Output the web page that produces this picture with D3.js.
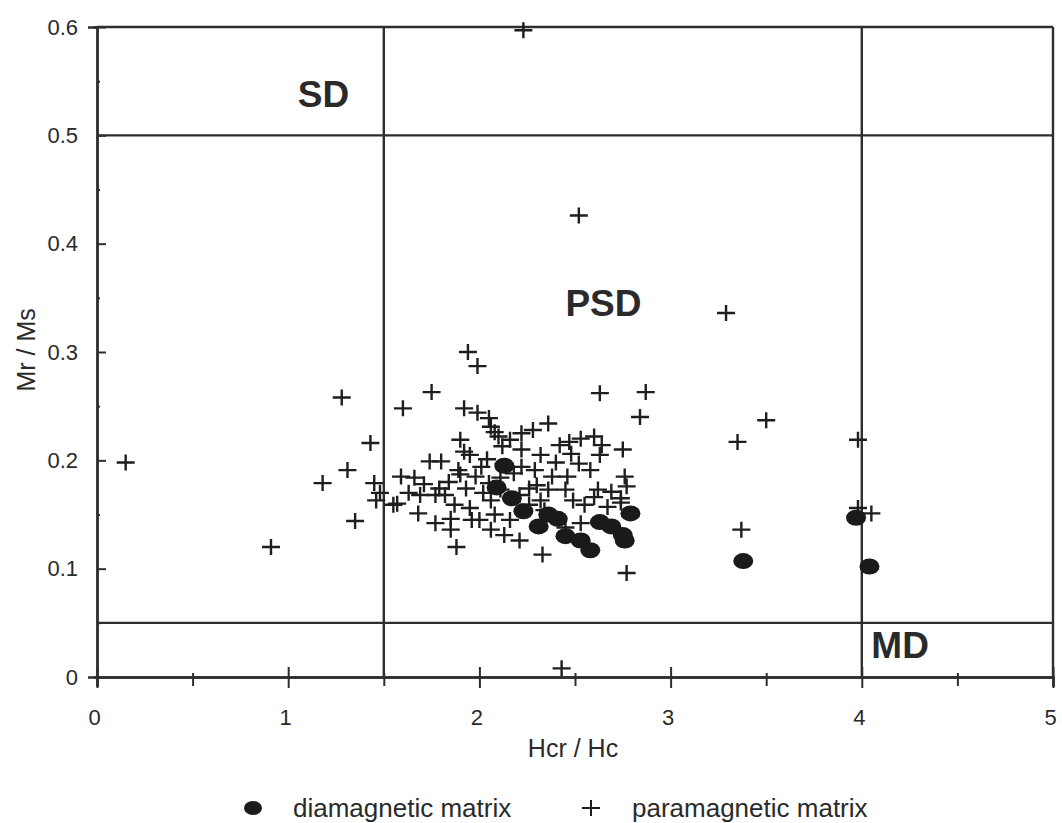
<!DOCTYPE html>
<html>
<head>
<meta charset="utf-8">
<script src="https://cdn.jsdelivr.net/npm/d3@7"></script>
<style>
  body { margin: 0; background: #fff; }
  text { font-family: "Liberation Sans", Arial, sans-serif; fill: #2a2a2a; }
</style>
</head>
<body>
<div id="main-content"></div>
<script>
// Hcr/Hc against Mr/Ms, samples with a paramagnetic matrix (crosses)
const paramagnetic = [
    [0.15, 0.198], [0.91, 0.120], [1.18, 0.179], [1.28, 0.258], [1.31, 0.191],
    [1.35, 0.144], [1.43, 0.216], [1.45, 0.179], [1.48, 0.170], [1.46, 0.163],
    [1.55, 0.159], [1.60, 0.248], [2.23, 0.597], [2.52, 0.426], [3.29, 0.336],
    [3.50, 0.237], [3.35, 0.217], [3.98, 0.219], [3.98, 0.156], [4.05, 0.151],
    [3.37, 0.136], [2.43, 0.008], [2.77, 0.096], [2.33, 0.113], [1.88, 0.120],
    [1.94, 0.300], [1.99, 0.287], [1.75, 0.263], [2.63, 0.262], [2.87, 0.263],
    [2.84, 0.240], [1.92, 0.248], [1.99, 0.244], [2.05, 0.239], [2.08, 0.226],
    [2.06, 0.231], [1.90, 0.219], [1.92, 0.208], [2.12, 0.213], [2.22, 0.225],
    [2.28, 0.228], [2.36, 0.234], [2.47, 0.217], [2.32, 0.205], [2.48, 0.206],
    [2.22, 0.210], [1.74, 0.199], [1.80, 0.199], [1.59, 0.185], [1.89, 0.191],
    [2.01, 0.194], [2.22, 0.194], [2.38, 0.185], [2.46, 0.185], [1.98, 0.185],
    [2.75, 0.210], [2.76, 0.185], [2.53, 0.220], [2.60, 0.222], [2.64, 0.214],
    [2.52, 0.197], [2.62, 0.173], [2.77, 0.176], [2.60, 0.166], [2.74, 0.165],
    [2.67, 0.157], [2.53, 0.142], [1.63, 0.170], [1.69, 0.168], [1.77, 0.168],
    [1.82, 0.168], [1.68, 0.151], [1.77, 0.142], [1.85, 0.146], [1.96, 0.145],
    [2.06, 0.136], [1.57, 0.160], [1.66, 0.184], [1.79, 0.174], [1.90, 0.187],
    [1.93, 0.174], [2.02, 0.170], [2.06, 0.163], [2.11, 0.173], [2.21, 0.168],
    [2.26, 0.174], [2.32, 0.163], [2.36, 0.173], [2.45, 0.173], [2.49, 0.163],
    [2.55, 0.159], [2.08, 0.150], [2.16, 0.145], [2.26, 0.159], [2.34, 0.154],
    [2.00, 0.145], [1.95, 0.156], [1.87, 0.159], [2.69, 0.171], [2.74, 0.161],
    [1.85, 0.136], [2.13, 0.131], [2.21, 0.126], [2.45, 0.138], [2.11, 0.184],
    [2.29, 0.191], [2.40, 0.198], [2.58, 0.191], [2.63, 0.205], [2.42, 0.214],
    [1.95, 0.205], [2.16, 0.219], [1.71, 0.178], [2.04, 0.201], [2.18, 0.188],
    [2.30, 0.177], [2.05, 0.179], [2.10, 0.222], [1.84, 0.180]
];

// Samples with a diamagnetic matrix (filled dots)
const diamagnetic = [
    [2.13, 0.195], [2.09, 0.175], [2.23, 0.153], [2.31, 0.139], [2.41, 0.146],
    [2.45, 0.130], [2.58, 0.117], [2.53, 0.126], [2.63, 0.143], [2.69, 0.139],
    [2.75, 0.131], [2.76, 0.126], [2.79, 0.151], [3.38, 0.107], [3.97, 0.147],
    [4.04, 0.102], [2.17, 0.165], [2.36, 0.150]
];

// Axis ticks and the SD / PSD / MD boundaries
const xTicks = [0, 1, 2, 3, 4, 5];
const xMinorTicks = [0.5, 1.5, 2.5, 3.5, 4.5];
const yTicks = [0, 0.1, 0.2, 0.3, 0.4, 0.5, 0.6];
const yMinorTicks = [0.05, 0.15, 0.25, 0.35, 0.45, 0.55];
const hcrBounds = [1.5, 4];
const mrBounds = [0.05, 0.5];
const regionNames = ["SD", "PSD", "MD"];
const regionAt = [[1.05, 0.526], [2.45, 0.333], [4.05, 0.0175]];

function renderPlot() {
    const width = 1062, height = 823;
    const margin = { top: 27, right: 9, bottom: 146, left: 97 };
    const w = width - margin.left - margin.right,
        h = height - margin.top - margin.bottom;

    const svg = d3.select("#main-content")
        .append("svg")
        .attr("width", width)
        .attr("height", height);

    const g = svg.append("g")
        .attr("transform", `translate(${margin.left},${margin.top})`);

    const x = d3.scaleLinear().domain([0, 5]).range([0, w]);
    const y = d3.scaleLinear().domain([0, 0.6]).range([h, 0]);

    const ink = "#2e2e2e";

    // Frame on top and right plus the boundary lines between domains
    g.append("line").attr("x1", 0).attr("x2", w).attr("y1", y(0.6)).attr("y2", y(0.6));
    g.append("line").attr("x1", x(5)).attr("x2", x(5)).attr("y1", 0).attr("y2", h);
    mrBounds.forEach(v => {
        g.append("line").attr("x1", 0).attr("x2", w).attr("y1", y(v)).attr("y2", y(v));
    });
    hcrBounds.forEach(v => {
        g.append("line").attr("x1", x(v)).attr("x2", x(v)).attr("y1", 0).attr("y2", h);
    });
    g.selectAll("line").attr("stroke", ink).attr("stroke-width", 2.4);

    // X axis, major ticks crossing the line, minor ones shorter
    const xAxis = g.append("g")
        .attr("transform", `translate(0,${h})`)
        .call(d3.axisBottom(x).tickValues(xTicks).tickFormat(d3.format("d")).tickSize(10).tickPadding(22));
    xAxis.selectAll(".tick line").attr("y1", -10).attr("y2", 11);
    xAxis.selectAll(".tick text").attr("dx", "-3");
    g.append("g")
        .attr("transform", `translate(0,${h})`)
        .call(d3.axisBottom(x).tickValues(xMinorTicks).tickFormat("").tickSize(9))
        .selectAll(".tick line").attr("y1", -4);

    // Y axis
    const yAxis = g.append("g")
        .call(d3.axisLeft(y).tickValues(yTicks).tickFormat(d => d === 0 ? "0" : d3.format(".1f")(d)).tickSize(9).tickPadding(10));
    yAxis.selectAll(".tick line").attr("x2", 9);
    g.append("g")
        .call(d3.axisLeft(y).tickValues(yMinorTicks).tickFormat("").tickSize(3))
        .selectAll(".tick line").attr("x2", 3);

    g.selectAll(".domain").attr("stroke", ink).attr("stroke-width", 2.4);
    g.selectAll(".tick line").attr("stroke", ink).attr("stroke-width", 2);
    g.selectAll(".tick text")
        .style("font-family", "'Liberation Sans', Arial, sans-serif")
        .style("font-size", "22px")
        .attr("fill", "#333");

    // Axis titles
    svg.append("text")
        .attr("x", margin.left + x(2.5) - 2)
        .attr("y", 757)
        .attr("text-anchor", "middle")
        .style("font-size", "25px")
        .text("Hcr / Hc");

    svg.append("text")
        .attr("transform", `translate(35,${margin.top + y(0.302)}) rotate(-90)`)
        .attr("text-anchor", "middle")
        .style("font-size", "25px")
        .text("Mr / Ms");

    // Domain state names
    g.selectAll(".region")
        .data(regionNames)
        .enter()
        .append("text")
        .attr("class", "region")
        .attr("x", (d, i) => x(regionAt[i][0]))
        .attr("y", (d, i) => y(regionAt[i][1]))
        .style("font-size", "37px")
        .style("font-weight", "bold")
        .attr("fill", "#222")
        .text(d => d);

    // Data: crosses for paramagnetic, filled dots for diamagnetic
    const cross = "M-9,0H9M0,-8V8";
    g.selectAll(".para")
        .data(paramagnetic)
        .enter()
        .append("path")
        .attr("class", "para")
        .attr("d", cross)
        .attr("transform", d => `translate(${x(d[0])},${y(d[1])})`)
        .attr("stroke", "#1e1e1e")
        .attr("stroke-width", 2.4)
        .attr("fill", "none");

    g.selectAll(".dia")
        .data(diamagnetic)
        .enter()
        .append("ellipse")
        .attr("class", "dia")
        .attr("cx", d => x(d[0]))
        .attr("cy", d => y(d[1]))
        .attr("rx", 10)
        .attr("ry", 8)
        .attr("fill", "#1a1a1a");

    // Legend under the axis title
    const legend = svg.append("g").attr("transform", "translate(0,808)");
    legend.append("ellipse").attr("cx", 253).attr("cy", 0).attr("rx", 9).attr("ry", 7).attr("fill", "#1a1a1a");
    legend.append("text").attr("x", 293).attr("y", 9).style("font-size", "26px").text("diamagnetic matrix");
    legend.append("path").attr("d", cross).attr("transform", "translate(591,0)")
        .attr("stroke", "#1e1e1e").attr("stroke-width", 2);
    legend.append("text").attr("x", 632).attr("y", 9).style("font-size", "26px").text("paramagnetic matrix");
}

renderPlot();
</script>
</body>
</html>
